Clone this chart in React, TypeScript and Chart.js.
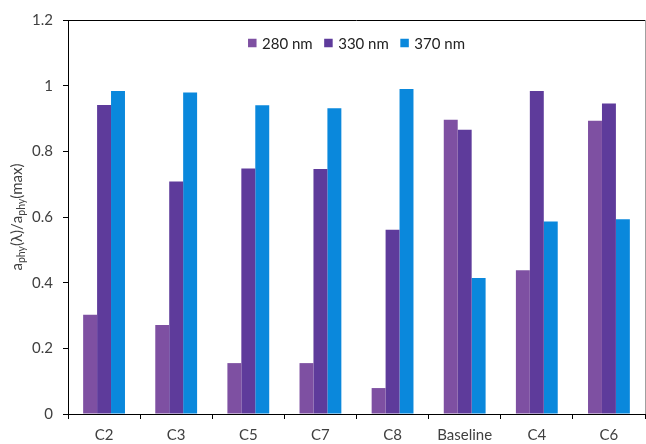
import React, { useEffect, useRef } from "react";
import { Chart, registerables } from "chart.js";

Chart.register(...registerables);

// Sites along the x axis
const categories = ["C2", "C3", "C5", "C7", "C8", "Baseline", "C4", "C6"];

// Normalised absorption a_phy(λ)/a_phy(max) per wavelength
const values280 = [0.302, 0.271, 0.155, 0.155, 0.079, 0.896, 0.438, 0.893];
const values330 = [0.941, 0.708, 0.748, 0.746, 0.561, 0.866, 0.984, 0.946];
const values370 = [0.984, 0.979, 0.94, 0.931, 0.99, 0.414, 0.586, 0.593];

const seriesNames = ["280 nm", "330 nm", "370 nm"];
const seriesColors = ["#7E50A2", "#5E3B9B", "#0A88DC"];

const yTicks = [0, 0.2, 0.4, 0.6, 0.8, 1, 1.2];

const FONT = "Lato, 'Open Sans', sans-serif";
const TEXT = "#404040";

// Legend drawn inside the plot, centred near the top
const insideLegend = {
  id: "insideLegend",
  afterDraw(chart: any) {
    const { ctx, chartArea } = chart;
    ctx.save();
    ctx.font = `15px ${FONT}`;
    ctx.textBaseline = "middle";
    const box = 8.5;
    const gap = 5.5;
    const spacing = 11.5;
    const widths = seriesNames.map((n) => box + gap + ctx.measureText(n).width);
    const total = widths.reduce((a, b) => a + b, 0) + spacing * (seriesNames.length - 1);
    let x = (chartArea.left + chartArea.right) / 2 - total / 2;
    const y = 43;
    seriesNames.forEach((name, i) => {
      ctx.fillStyle = seriesColors[i];
      ctx.fillRect(x, y - box / 2, box, box);
      ctx.fillStyle = "#222";
      ctx.fillText(name, x + box + gap, y + 1);
      x += widths[i] + spacing;
    });
    ctx.restore();
  },
};

// Top rule and right edge of the frame
const frame = {
  id: "frame",
  afterDraw(chart: any) {
    const { ctx, chartArea } = chart;
    ctx.save();
    ctx.lineWidth = 1;
    ctx.strokeStyle = "#000";
    ctx.beginPath();
    ctx.moveTo(chartArea.left, chartArea.top + 0.5);
    ctx.lineTo(chartArea.right, chartArea.top + 0.5);
    ctx.stroke();
    ctx.strokeStyle = "#a0a0a0";
    ctx.beginPath();
    ctx.moveTo(chartArea.right + 0.5, chartArea.top);
    ctx.lineTo(chartArea.right + 0.5, chartArea.bottom);
    ctx.stroke();
    ctx.restore();
  },
};

// Rotated y-axis title with subscripts
const yTitle = {
  id: "yTitle",
  afterDraw(chart: any) {
    const { ctx, chartArea } = chart;
    const parts = [
      { t: "a", sub: false },
      { t: "phy", sub: true },
      { t: "(λ)/a", sub: false },
      { t: "phy", sub: true },
      { t: "(max)", sub: false },
    ];
    const mainFont = `15px ${FONT}`;
    const subFont = `10.5px ${FONT}`;
    ctx.save();
    let total = 0;
    const w = parts.map((p) => {
      ctx.font = p.sub ? subFont : mainFont;
      const m = ctx.measureText(p.t).width;
      total += m;
      return m;
    });
    ctx.translate(22, (chartArea.top + chartArea.bottom) / 2);
    ctx.rotate(-Math.PI / 2);
    ctx.fillStyle = TEXT;
    ctx.textBaseline = "alphabetic";
    let x = -total / 2;
    parts.forEach((p, i) => {
      ctx.font = p.sub ? subFont : mainFont;
      ctx.fillText(p.t, x, p.sub ? 3 : 0);
      x += w[i];
    });
    ctx.restore();
  },
};

export default function App() {
  const canvasRef = useRef<HTMLCanvasElement | null>(null);

  useEffect(() => {
    if (!canvasRef.current) return;
    const chart = new Chart(canvasRef.current, {
      type: "bar",
      data: {
        labels: categories,
        datasets: [values280, values330, values370].map((vals, i) => ({
          label: seriesNames[i],
          data: vals,
          backgroundColor: seriesColors[i],
          borderWidth: 0,
          categoryPercentage: 0.58,
          barPercentage: 1,
        })),
      },
      options: {
        animation: false,
        responsive: false,
        maintainAspectRatio: false,
        layout: { padding: { left: 0, top: 20, right: 1, bottom: 0 } },
        plugins: {
          legend: { display: false },
          tooltip: { enabled: false },
        },
        scales: {
          x: {
            afterFit: (scale: any) => {
              scale.height = 30;
            },
            grid: {
              display: true,
              drawOnChartArea: false,
              drawTicks: true,
              tickLength: 5,
              offset: true,
              color: "#000",
            },
            border: { display: true, color: "#000", width: 1 },
            ticks: {
              color: TEXT,
              font: { family: FONT, size: 15 },
              padding: 7,
              maxRotation: 0,
              autoSkip: false,
            },
          },
          y: {
            min: 0,
            max: 1.2,
            afterFit: (scale: any) => {
              scale.width = 68;
            },
            afterBuildTicks: (scale: any) => {
              scale.ticks = yTicks.map((v) => ({ value: v }));
            },
            grid: {
              display: true,
              drawOnChartArea: false,
              drawTicks: true,
              tickLength: 5,
              color: "#000",
            },
            border: { display: true, color: "#000", width: 1 },
            ticks: {
              color: TEXT,
              font: { family: FONT, size: 15 },
              padding: 10,
              callback: (v: any) => String(Math.round(Number(v) * 10) / 10),
            },
          },
        },
      },
      plugins: [frame, insideLegend, yTitle],
    });
    return () => chart.destroy();
  }, []);

  return (
    <div style={{ position: "fixed", left: 0, top: 0, width: 646, height: 444, background: "#fff" }}>
      <canvas ref={canvasRef} width={646} height={444} />
    </div>
  );
}
